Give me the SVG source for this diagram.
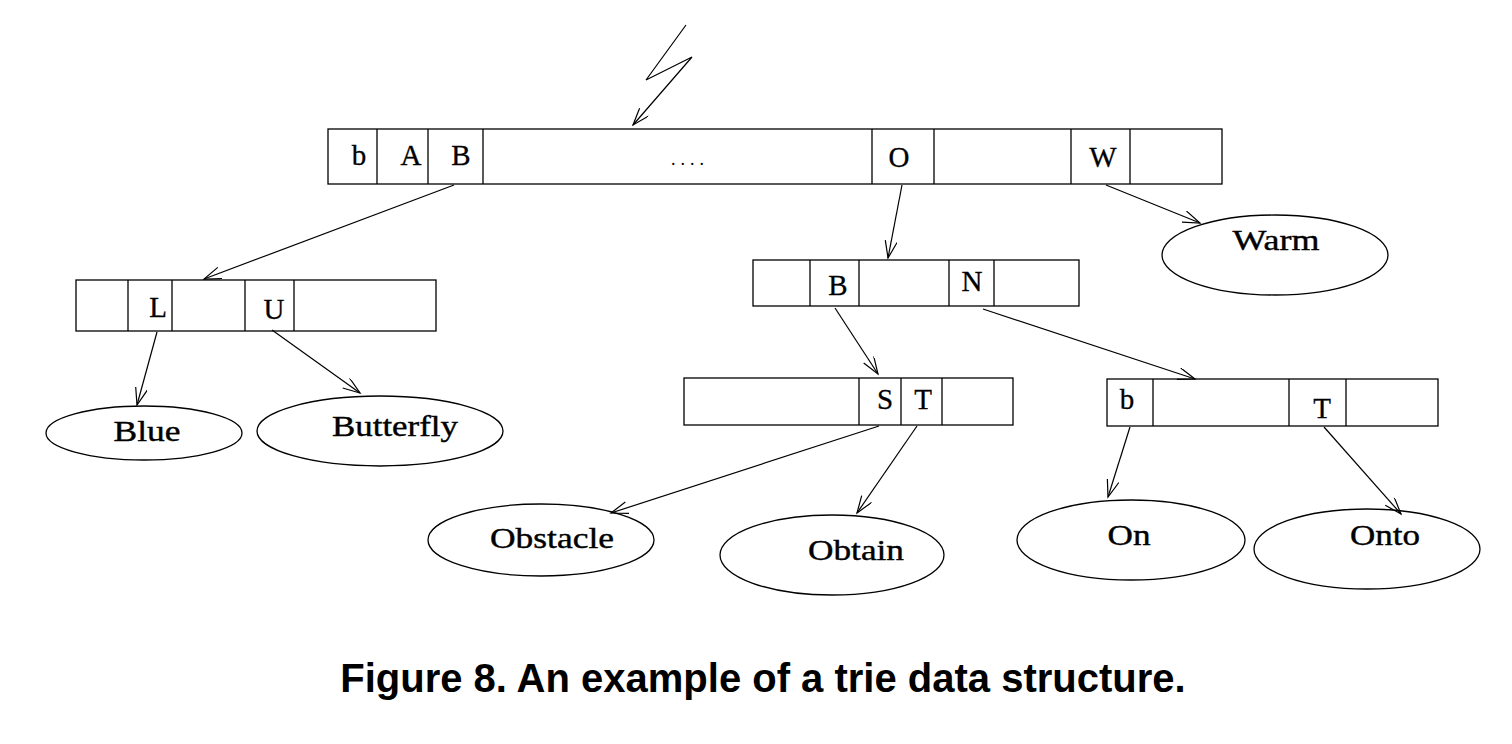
<svg xmlns="http://www.w3.org/2000/svg" width="1512" height="744" viewBox="0 0 1512 744">
<defs>
<marker id="ah" markerUnits="userSpaceOnUse" markerWidth="20" markerHeight="14" refX="18" refY="6" orient="auto">
<path d="M1,0 L18,6 L1,12" fill="none" stroke="#000" stroke-width="1.2"/>
</marker>
<style>
.box{fill:#fff;stroke:#000;stroke-width:1.3}
.div{stroke:#000;stroke-width:1.3}
.ell{fill:#fff;stroke:#000;stroke-width:1.3}
.lbl{font-family:"Liberation Serif",serif;font-size:29px;text-anchor:middle;fill:#000;stroke:#000;stroke-width:0.3}
.word{font-family:"Liberation Serif",serif;font-size:29px;text-anchor:middle;fill:#000;stroke:#000;stroke-width:0.4}
.con{fill:none;stroke:#000;stroke-width:1.2;marker-end:url(#ah)}
.cap{font-family:"Liberation Sans",Arial,sans-serif;font-size:40px;font-weight:bold;text-anchor:middle;fill:#000}
</style>
</defs>
<rect width="1512" height="744" fill="#fff"/>
<g id="root">
<rect class="box" x="328" y="129" width="894" height="55"/>
<line class="div" x1="377" y1="129" x2="377" y2="184"/>
<line class="div" x1="428" y1="129" x2="428" y2="184"/>
<line class="div" x1="483" y1="129" x2="483" y2="184"/>
<line class="div" x1="872" y1="129" x2="872" y2="184"/>
<line class="div" x1="934" y1="129" x2="934" y2="184"/>
<line class="div" x1="1071" y1="129" x2="1071" y2="184"/>
<line class="div" x1="1130" y1="129" x2="1130" y2="184"/>
<text class="lbl" x="359" y="165">b</text>
<text class="lbl" x="411" y="165">A</text>
<text class="lbl" x="461" y="165">B</text>
<text class="lbl" x="690" y="165" style="font-size:18px;letter-spacing:5px;stroke-width:0">....</text>
<text class="lbl" x="899" y="167">O</text>
<text class="lbl" x="1103" y="167">W</text>
</g>
<g id="nodeL">
<rect class="box" x="76" y="280" width="360" height="51"/>
<line class="div" x1="128" y1="280" x2="128" y2="331"/>
<line class="div" x1="172" y1="280" x2="172" y2="331"/>
<line class="div" x1="245" y1="280" x2="245" y2="331"/>
<line class="div" x1="294" y1="280" x2="294" y2="331"/>
<text class="lbl" x="158" y="317">L</text>
<text class="lbl" x="274" y="319">U</text>
</g>
<g id="nodeO">
<rect class="box" x="753" y="260" width="326" height="46"/>
<line class="div" x1="810" y1="260" x2="810" y2="306"/>
<line class="div" x1="859" y1="260" x2="859" y2="306"/>
<line class="div" x1="949" y1="260" x2="949" y2="306"/>
<line class="div" x1="994" y1="260" x2="994" y2="306"/>
<text class="lbl" x="838" y="295">B</text>
<text class="lbl" x="972" y="291">N</text>
</g>
<g id="nodeOB">
<rect class="box" x="684" y="378" width="329" height="47"/>
<line class="div" x1="859" y1="378" x2="859" y2="425"/>
<line class="div" x1="901" y1="378" x2="901" y2="425"/>
<line class="div" x1="942" y1="378" x2="942" y2="425"/>
<text class="lbl" x="885" y="409">S</text>
<text class="lbl" x="923" y="409">T</text>
</g>
<g id="nodeON">
<rect class="box" x="1107" y="379" width="331" height="47"/>
<line class="div" x1="1153" y1="379" x2="1153" y2="426"/>
<line class="div" x1="1289" y1="379" x2="1289" y2="426"/>
<line class="div" x1="1346" y1="379" x2="1346" y2="426"/>
<text class="lbl" x="1127" y="409">b</text>
<text class="lbl" x="1322" y="418">T</text>
</g>
<g id="warm"><ellipse class="ell" cx="1275" cy="255" rx="113" ry="40"/><text class="word" x="1276" y="250" textLength="87" lengthAdjust="spacingAndGlyphs">Warm</text></g>
<g id="blue"><ellipse class="ell" cx="144" cy="433" rx="98" ry="27"/><text class="word" x="147" y="441" textLength="67" lengthAdjust="spacingAndGlyphs">Blue</text></g>
<g id="butterfly"><ellipse class="ell" cx="380" cy="431" rx="123" ry="35"/><text class="word" x="395" y="436" textLength="126" lengthAdjust="spacingAndGlyphs">Butterfly</text></g>
<g id="obstacle"><ellipse class="ell" cx="541" cy="540" rx="113" ry="36"/><text class="word" x="552" y="548" textLength="124" lengthAdjust="spacingAndGlyphs">Obstacle</text></g>
<g id="obtain"><ellipse class="ell" cx="832" cy="555" rx="112" ry="40"/><text class="word" x="856" y="560" textLength="96" lengthAdjust="spacingAndGlyphs">Obtain</text></g>
<g id="on"><ellipse class="ell" cx="1131" cy="540" rx="114" ry="40"/><text class="word" x="1129" y="545" textLength="43" lengthAdjust="spacingAndGlyphs">On</text></g>
<g id="onto"><ellipse class="ell" cx="1367" cy="549" rx="113" ry="40"/><text class="word" x="1385" y="545" textLength="70" lengthAdjust="spacingAndGlyphs">Onto</text></g>
<g id="connectors">
<polyline class="con" points="686,25 646,80 692,57 633,125"/>
<line class="con" x1="454" y1="185" x2="204" y2="279"/>
<line class="con" x1="902" y1="185" x2="888" y2="258"/>
<line class="con" x1="1106" y1="185" x2="1200" y2="223"/>
<line class="con" x1="157" y1="332" x2="137" y2="405"/>
<line class="con" x1="272" y1="330" x2="360" y2="393"/>
<line class="con" x1="835" y1="308" x2="878" y2="374"/>
<line class="con" x1="983" y1="309" x2="1195" y2="379"/>
<line class="con" x1="879" y1="426" x2="611" y2="513"/>
<line class="con" x1="917" y1="426" x2="857" y2="513"/>
<line class="con" x1="1130" y1="427" x2="1108" y2="497"/>
<line class="con" x1="1324" y1="427" x2="1401" y2="514"/>
</g>
<text class="cap" x="763" y="692">Figure 8. An example of a trie data structure.</text>
</svg>
